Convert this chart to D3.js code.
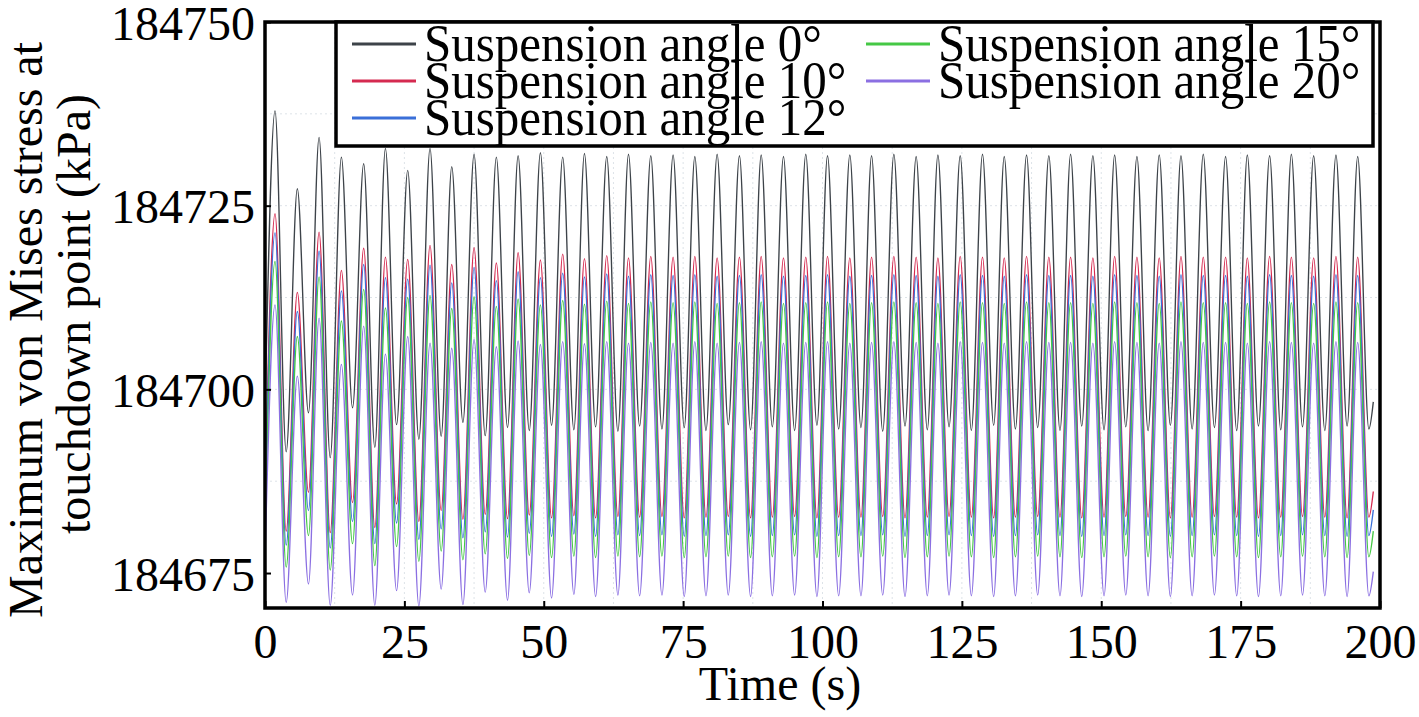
<!DOCTYPE html>
<html>
<head>
<meta charset="utf-8">
<script src="https://cdn.jsdelivr.net/npm/d3@7"></script>
<style>
  html, body { margin: 0; padding: 0; background: #fff; }
  svg text { font-family: 'Liberation Serif', 'Times New Roman', serif; fill: #000; }
</style>
</head>
<body>
<svg id="chart" width="1419" height="717"></svg>
<script>
// ---- data ----
var seriesNames = ['Suspension angle 0°', 'Suspension angle 10°', 'Suspension angle 12°',
  'Suspension angle 15°', 'Suspension angle 20°'];
var seriesColors = ['#3d4349', '#d52a50', '#3a6fd8', '#45c845', '#8b6fe2'];

var xTicks = [0, 25, 50, 75, 100, 125, 150, 175, 200];
var yTicks = [184675, 184700, 184725, 184750];
var gridX = [12.5, 25, 37.5, 50, 62.5, 75, 87.5, 100, 112.5, 125, 137.5, 150, 162.5, 175, 187.5];
var gridY = [184687.5, 184700, 184712.5, 184725, 184737.5];

var startTime = 0;
var endTime = 198.8;

var peakTimes = [1.8, 5.8, 9.7, 13.7, 17.7, 21.6, 25.6, 29.6, 33.5, 37.5,
  41.5, 45.4, 49.4, 53.4, 57.3, 61.3, 65.2, 69.2, 73.2, 77.1,
  81.1, 85.1, 89.0, 93.0, 97.0, 100.9, 104.9, 108.8, 112.8, 116.8,
  120.7, 124.7, 128.7, 132.6, 136.6, 140.6, 144.5, 148.5, 152.4, 156.4,
  160.4, 164.3, 168.3, 172.3, 176.2, 180.2, 184.1, 188.1, 192.1, 196.0];

var troughTimes = [3.8, 7.8, 11.7, 15.7, 19.7, 23.6, 27.6, 31.6, 35.5, 39.5,
  43.5, 47.4, 51.4, 55.4, 59.3, 63.3, 67.2, 71.2, 75.2, 79.1,
  83.1, 87.1, 91.0, 95.0, 99.0, 102.9, 106.9, 110.8, 114.8, 118.8,
  122.7, 126.7, 130.7, 134.6, 138.6, 142.6, 146.5, 150.5, 154.4, 158.4,
  162.4, 166.3, 170.3, 174.3, 178.2, 182.2, 186.1, 190.1, 194.1, 198.0];

var startValues = [184697.0, 184686.0, 184684.0, 184681.0, 184677.0];
var endValues = [184698.3, 184686.1, 184683.6, 184680.7, 184675.2];

var peaks0 = [184737.9, 184727.3, 184734.3, 184731.6, 184730.7, 184732.8, 184729.8, 184732.8, 184730.3, 184732.0,
  184731.6, 184731.8, 184732.2, 184731.6, 184732.1, 184731.7, 184732.0, 184731.8, 184731.9, 184731.7,
  184732.0, 184731.8, 184731.9, 184731.7, 184732.0, 184731.8, 184731.9, 184731.8, 184732.0, 184731.7,
  184731.9, 184731.8, 184732.0, 184731.7, 184731.9, 184731.8, 184732.0, 184731.8, 184731.9, 184731.7,
  184731.9, 184731.8, 184732.0, 184731.7, 184731.9, 184731.8, 184732.0, 184731.8, 184731.9, 184731.7];
var troughs0 = [184691.5, 184696.8, 184690.7, 184697.5, 184692.1, 184695.2, 184693.2, 184693.6, 184695.5, 184693.7,
  184694.8, 184694.4, 184695.1, 184694.5, 184694.9, 184694.3, 184695.0, 184694.6, 184694.8, 184694.4,
  184695.2, 184694.5, 184694.9, 184694.4, 184695.1, 184694.6, 184694.8, 184694.3, 184695.0, 184694.5,
  184694.9, 184694.4, 184695.1, 184694.6, 184694.8, 184694.4, 184695.0, 184694.5, 184694.9, 184694.4,
  184695.1, 184694.6, 184694.8, 184694.4, 184695.0, 184694.5, 184694.9, 184694.4, 184695.0, 184694.6];

var peaks10 = [184723.9, 184713.2, 184721.4, 184716.2, 184719.2, 184718.0, 184717.7, 184719.6, 184717.0, 184719.3,
  184717.2, 184718.6, 184717.6, 184718.4, 184717.8, 184718.2, 184717.9, 184718.1, 184718.0, 184718.1,
  184717.9, 184718.0, 184718.1, 184717.9, 184718.0, 184718.1, 184717.9, 184718.0, 184718.1, 184718.0,
  184717.9, 184718.1, 184718.0, 184717.9, 184718.1, 184718.0, 184718.0, 184717.9, 184718.1, 184718.0,
  184717.9, 184718.1, 184718.0, 184718.0, 184717.9, 184718.1, 184718.0, 184717.9, 184718.1, 184718.0];
var troughs10 = [184680.7, 184686.0, 184680.5, 184684.6, 184681.2, 184684.4, 184682.0, 184683.5, 184682.3, 184683.0,
  184682.4, 184682.9, 184682.5, 184682.8, 184682.5, 184682.7, 184682.6, 184682.7, 184682.5, 184682.6,
  184682.7, 184682.5, 184682.6, 184682.7, 184682.5, 184682.6, 184682.6, 184682.7, 184682.5, 184682.6,
  184682.7, 184682.6, 184682.5, 184682.6, 184682.7, 184682.6, 184682.5, 184682.6, 184682.7, 184682.6,
  184682.5, 184682.6, 184682.7, 184682.6, 184682.5, 184682.6, 184682.7, 184682.6, 184682.5, 184682.6];

var peaks12 = [184721.3, 184710.6, 184718.8, 184713.4, 184717.0, 184715.2, 184715.0, 184716.9, 184714.5, 184716.6,
  184714.8, 184716.0, 184715.2, 184715.8, 184715.3, 184715.7, 184715.4, 184715.6, 184715.5, 184715.6,
  184715.4, 184715.5, 184715.6, 184715.4, 184715.5, 184715.6, 184715.4, 184715.5, 184715.6, 184715.5,
  184715.4, 184715.6, 184715.5, 184715.4, 184715.6, 184715.5, 184715.5, 184715.4, 184715.6, 184715.5,
  184715.4, 184715.6, 184715.5, 184715.5, 184715.4, 184715.6, 184715.5, 184715.4, 184715.6, 184715.5];
var troughs12 = [184678.8, 184683.5, 184678.4, 184682.0, 184679.0, 184681.8, 184679.6, 184681.0, 184679.8, 184680.6,
  184679.9, 184680.4, 184680.0, 184680.3, 184680.0, 184680.2, 184680.1, 184680.2, 184680.0, 184680.1,
  184680.2, 184680.0, 184680.1, 184680.2, 184680.0, 184680.1, 184680.1, 184680.2, 184680.0, 184680.1,
  184680.2, 184680.1, 184680.0, 184680.1, 184680.2, 184680.1, 184680.0, 184680.1, 184680.2, 184680.1,
  184680.0, 184680.1, 184680.2, 184680.1, 184680.0, 184680.1, 184680.2, 184680.1, 184680.0, 184680.1];

var peaks15 = [184717.4, 184707.2, 184715.3, 184709.3, 184713.6, 184711.1, 184712.5, 184712.8, 184711.0, 184712.6,
  184711.3, 184712.3, 184711.5, 184712.1, 184711.6, 184712.0, 184711.7, 184711.9, 184711.8, 184711.9,
  184711.7, 184711.8, 184711.9, 184711.7, 184711.8, 184711.9, 184711.7, 184711.8, 184711.9, 184711.8,
  184711.7, 184711.9, 184711.8, 184711.7, 184711.9, 184711.8, 184711.8, 184711.7, 184711.9, 184711.8,
  184711.7, 184711.9, 184711.8, 184711.8, 184711.7, 184711.9, 184711.8, 184711.7, 184711.9, 184711.8];
var troughs15 = [184675.8, 184680.1, 184675.4, 184679.0, 184676.0, 184678.6, 184676.6, 184678.0, 184676.8, 184677.6,
  184677.0, 184677.4, 184677.1, 184677.3, 184677.1, 184677.3, 184677.2, 184677.3, 184677.1, 184677.2,
  184677.3, 184677.1, 184677.2, 184677.3, 184677.1, 184677.2, 184677.2, 184677.3, 184677.1, 184677.2,
  184677.3, 184677.2, 184677.1, 184677.2, 184677.3, 184677.2, 184677.1, 184677.2, 184677.3, 184677.2,
  184677.1, 184677.2, 184677.3, 184677.2, 184677.1, 184677.2, 184677.3, 184677.2, 184677.1, 184677.2];

var peaks20 = [184711.5, 184701.8, 184709.7, 184703.4, 184708.6, 184704.8, 184707.2, 184706.3, 184705.6, 184706.8,
  184705.8, 184706.6, 184706.1, 184706.5, 184706.2, 184706.5, 184706.3, 184706.4, 184706.3, 184706.5,
  184706.3, 184706.4, 184706.5, 184706.3, 184706.4, 184706.5, 184706.3, 184706.4, 184706.5, 184706.4,
  184706.3, 184706.5, 184706.4, 184706.3, 184706.5, 184706.4, 184706.4, 184706.3, 184706.5, 184706.4,
  184706.3, 184706.5, 184706.4, 184706.4, 184706.3, 184706.5, 184706.4, 184706.3, 184706.5, 184706.4];
var troughs20 = [184671.0, 184673.5, 184670.6, 184672.0, 184670.6, 184672.6, 184670.5, 184672.8, 184670.7, 184672.4,
  184671.3, 184672.3, 184671.6, 184672.1, 184671.8, 184672.0, 184671.9, 184672.0, 184671.8, 184671.9,
  184672.0, 184671.8, 184671.9, 184672.0, 184671.8, 184671.9, 184671.9, 184672.0, 184671.8, 184671.9,
  184672.0, 184671.9, 184671.8, 184671.9, 184672.0, 184671.9, 184671.8, 184671.9, 184672.0, 184671.9,
  184671.8, 184671.9, 184672.0, 184671.9, 184671.8, 184671.9, 184672.0, 184671.9, 184671.8, 184671.9];

var seriesPeaks = [peaks0, peaks10, peaks12, peaks15, peaks20];
var seriesTroughs = [troughs0, troughs10, troughs12, troughs15, troughs20];

// ---- layout ----
var plot = { left: 265, right: 1380, top: 22, bottom: 608 };
var svg = d3.select('#chart');

var x = d3.scaleLinear().domain([0, 200]).range([plot.left, plot.right]);
var y = d3.scaleLinear().domain([184670.24, 184750]).range([plot.bottom, plot.top]);

// alternate peak / trough points of one series, in time order
function buildPoints(s) {
  var pts = [{ t: startTime, v: startValues[s] }];
  peakTimes.forEach(function(t, i) {
    pts.push({ t: t, v: seriesPeaks[s][i] });
    pts.push({ t: troughTimes[i], v: seriesTroughs[s][i] });
  });
  pts.push({ t: endTime, v: endValues[s] });
  return pts;
}

svg.append('defs').append('clipPath').attr('id', 'plot-clip')
  .append('rect')
  .attr('x', plot.left).attr('y', plot.top)
  .attr('width', plot.right - plot.left).attr('height', plot.bottom - plot.top);

// faint grid
var grid = svg.append('g').attr('class', 'grid');
grid.selectAll('line.gx').data(gridX).enter().append('line')
  .attr('x1', function(d) { return x(d); }).attr('x2', function(d) { return x(d); })
  .attr('y1', plot.top).attr('y2', plot.bottom)
  .attr('stroke', '#dde3e8').attr('stroke-width', 1).attr('stroke-dasharray', '2,3');
grid.selectAll('line.gy').data(gridY).enter().append('line')
  .attr('y1', function(d) { return y(d); }).attr('y2', function(d) { return y(d); })
  .attr('x1', plot.left).attr('x2', plot.right)
  .attr('stroke', '#dde3e8').attr('stroke-width', 1).attr('stroke-dasharray', '2,3');

// series
var line = d3.line()
  .x(function(d) { return x(d.t); })
  .y(function(d) { return y(d.v); })
  .curve(d3.curveMonotoneX);

svg.append('g').attr('clip-path', 'url(#plot-clip)')
  .selectAll('path').data(seriesNames).enter().append('path')
  .attr('fill', 'none')
  .attr('stroke', function(d, i) { return seriesColors[i]; })
  .attr('stroke-width', 1.35)
  .attr('d', function(d, i) { return line(buildPoints(i)); });

// axes
var yAxis = svg.append('g')
  .attr('transform', 'translate(' + plot.left + ',0)')
  .call(d3.axisLeft(y).tickValues(yTicks).tickSize(-6).tickPadding(10).tickFormat(d3.format('d')));
var xAxis = svg.append('g')
  .attr('transform', 'translate(0,' + plot.bottom + ')')
  .call(d3.axisBottom(x).tickValues(xTicks).tickSize(-7).tickPadding(16).tickFormat(d3.format('d')));
[yAxis, xAxis].forEach(function(g) {
  g.select('.domain').remove();
  g.selectAll('.tick line').attr('stroke', '#000').attr('stroke-width', 2);
  g.selectAll('.tick text').style('font-family', "'Liberation Serif', serif").style('font-size', '48px').attr('fill', '#000');
});
yAxis.selectAll('.tick text').attr('dy', '0.36em');

// frame
svg.append('rect')
  .attr('x', plot.left).attr('y', plot.top)
  .attr('width', plot.right - plot.left).attr('height', plot.bottom - plot.top)
  .attr('fill', 'none').attr('stroke', '#000').attr('stroke-width', 3.5);

// axis titles
svg.append('text').attr('x', 780).attr('y', 700)
  .attr('text-anchor', 'middle').style('font-size', '48px').text('Time (s)');
svg.append('text').attr('transform', 'translate(42,330) rotate(-90)')
  .attr('text-anchor', 'middle').style('font-size', '48px').text('Maximum von Mises stress at');
svg.append('text').attr('transform', 'translate(90,314) rotate(-90)')
  .attr('text-anchor', 'middle').style('font-size', '48px').text('touchdown point (kPa)');

// legend
var legend = svg.append('g').attr('class', 'legend');
legend.append('rect')
  .attr('x', 336).attr('y', 22).attr('width', 1037).attr('height', 124)
  .attr('fill', '#fff').attr('stroke', '#000').attr('stroke-width', 3.5);
var rowY = [44, 81, 118];
var items = legend.selectAll('g.item').data(seriesNames).enter().append('g')
  .attr('transform', function(d, i) {
    var col = i < 3 ? 0 : 1;
    var row = i < 3 ? i : i - 3;
    return 'translate(' + (col === 0 ? 352 : 866) + ',' + rowY[row] + ')';
  });
items.append('line')
  .attr('x1', 0).attr('x2', 64).attr('y1', 0).attr('y2', 0)
  .attr('stroke', function(d, i) { return seriesColors[i]; })
  .attr('stroke-width', 3);
items.append('text')
  .attr('transform', 'translate(72,17) scale(1,1.07)')
  .style('font-size', '49px')
  .text(function(d) { return d; });
</script>
</body>
</html>
